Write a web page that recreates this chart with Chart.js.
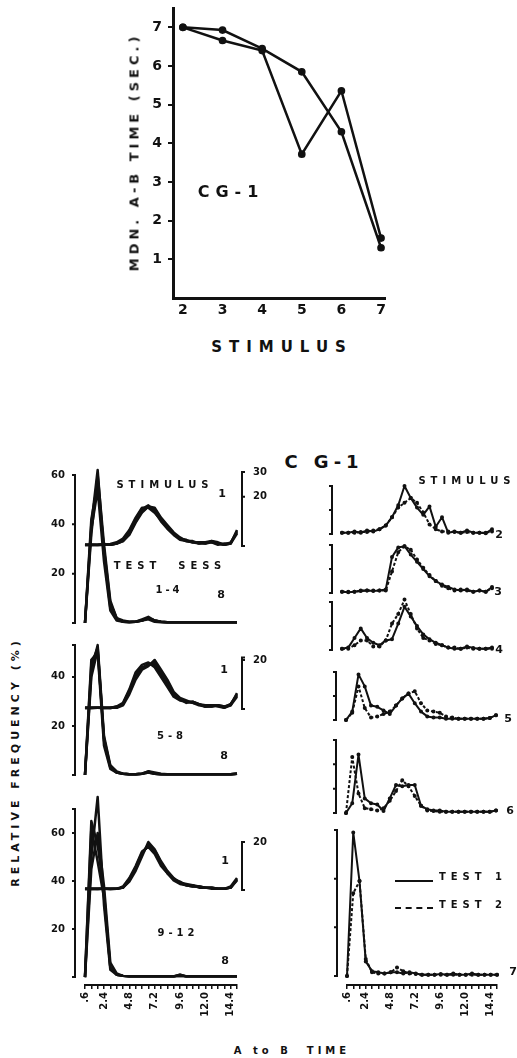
<!DOCTYPE html>
<html>
<head>
<meta charset="utf-8">
<title>CG-1</title>
<script src="https://cdn.jsdelivr.net/npm/chart.js@4.4.1/dist/chart.umd.min.js"></script>
<style>
  html, body { margin: 0; padding: 0; background: #fff; }
  body { width: 517px; height: 1058px; position: relative; overflow: hidden;
         font-family: 'DejaVu Sans', sans-serif; font-weight: bold; color: #111; }
  canvas { position: absolute; }
  .t { position: absolute; transform: translate(-50%, -50%); white-space: pre; line-height: 1; }
  .v { transform: translate(-50%, -50%) rotate(-90deg); }
  .key { position: absolute; width: 38px; height: 0; border-top: 2px solid #111; }
  .key.dash { border-top-style: dashed; }
</style>
</head>
<body>
<canvas id="topChart"></canvas>
<canvas id="sess1to4"></canvas>
<canvas id="sess5to8"></canvas>
<canvas id="sess9to12"></canvas>
<canvas id="stim2"></canvas>
<canvas id="stim3"></canvas>
<canvas id="stim4"></canvas>
<canvas id="stim5"></canvas>
<canvas id="stim6"></canvas>
<canvas id="stim7"></canvas>

<!-- textos do gráfico superior -->
<div class="t v" style="left:134px;top:152px;font-size:13px;letter-spacing:4px">MDN. A-B TIME (SEC.)</div>
<div class="t" style="left:231px;top:192px;font-size:16px;letter-spacing:6px">CG-1</div>
<div class="t" style="left:282px;top:347px;font-size:15px;letter-spacing:7px">STIMULUS</div>

<!-- textos dos painéis inferiores -->
<div class="t" style="left:324px;top:462px;font-size:18px;letter-spacing:5px">C G-1</div>
<div class="t" style="left:467px;top:481px;font-size:10px;letter-spacing:5px">STIMULUS</div>
<div class="t v" style="left:15px;top:762px;font-size:11px;letter-spacing:4px">RELATIVE FREQUENCY (%)</div>

<div class="t" style="left:165px;top:485px;font-size:10px;letter-spacing:5px">STIMULUS</div>
<div class="t" style="left:222px;top:493px;font-size:11px">1</div>
<div class="t" style="left:170px;top:566px;font-size:10px;letter-spacing:5px">TEST  SESS</div>
<div class="t" style="left:169px;top:590px;font-size:10px;letter-spacing:3px">1-4</div>
<div class="t" style="left:221px;top:594px;font-size:11px">8</div>

<div class="t" style="left:224px;top:669px;font-size:11px">1</div>
<div class="t" style="left:172px;top:736px;font-size:10px;letter-spacing:4px">5-8</div>
<div class="t" style="left:224px;top:755px;font-size:11px">8</div>

<div class="t" style="left:225px;top:860px;font-size:11px">1</div>
<div class="t" style="left:178px;top:933px;font-size:10px;letter-spacing:4px">9-12</div>
<div class="t" style="left:225px;top:960px;font-size:11px">8</div>

<div class="t" style="left:499px;top:534px;font-size:11px">2</div>
<div class="t" style="left:498px;top:591px;font-size:11px">3</div>
<div class="t" style="left:499px;top:649px;font-size:11px">4</div>
<div class="t" style="left:508px;top:718px;font-size:11px">5</div>
<div class="t" style="left:510px;top:810px;font-size:11px">6</div>
<div class="t" style="left:513px;top:971px;font-size:11px">7</div>

<div class="key" style="left:395px;top:880px"></div>
<div class="t" style="left:473px;top:877px;font-size:10px;letter-spacing:5px">TEST 1</div>
<div class="key dash" style="left:395px;top:907px"></div>
<div class="t" style="left:473px;top:905px;font-size:10px;letter-spacing:5px">TEST 2</div>

<div class="t" style="left:292px;top:1051px;font-size:10px;letter-spacing:4px">A to B  TIME</div>

<script>
// ---- dados do gráfico superior (mediana do tempo A-B por estímulo) ----
const stimuli = [2, 3, 4, 5, 6, 7];
const mdnTest1 = [7.0, 6.66, 6.40, 3.72, 5.36, 1.55];
const mdnTest2 = [7.0, 6.93, 6.45, 5.85, 4.30, 1.30];
const mdnTicks = [1, 2, 3, 4, 5, 6, 7];

// ---- intervalos de tempo A-B (s) ----
const timeBins = ['0.6', '1.2', '1.8', '2.4', '3.0', '3.6', '4.2', '4.8', '5.4', '6.0', '6.6', '7.2', '7.8',
  '8.4', '9.0', '9.6', '10.2', '10.8', '11.4', '12.0', '12.6', '13.2', '13.8', '14.4', '15.0'];
const timeTickBins = ['0.6', '2.4', '4.8', '7.2', '9.6', '12.0', '14.4'];
const timeTickText = ['.6', '2.4', '4.8', '7.2', '9.6', '12.0', '14.4'];

// ---- frequência relativa (%), sessões de teste, estímulos 1 e 8 ----
const sess1to4Stim1 = [
  [0.5, 0.5, 0.5, 0.5, 0.5, 1, 2, 5, 10, 14, 16, 15, 11, 8, 5, 3, 2, 1.5, 1.5, 1.5, 2, 1, 0.5, 1, 6],
  [0.5, 0.3, 0.5, 0.8, 0.5, 1, 2.5, 6, 11, 15, 16.5, 14, 10, 7, 4.5, 2.5, 2, 2, 1, 1, 1.5, 1, 0.5, 1.5, 5.5],
  [0.3, 0.5, 0.5, 0.5, 0.8, 1.5, 3, 6.5, 11.5, 15.5, 15.5, 13.5, 10.5, 7.5, 5, 3, 2.5, 1.5, 1, 1.5, 1.5, 0.5, 1, 1, 6.5],
  [0.5, 0.5, 0.3, 0.5, 0.5, 1, 2, 4.5, 9.5, 13.5, 16, 15.5, 11.5, 8.5, 5.5, 3.5, 2, 1.5, 1.5, 1, 2, 1.5, 0.5, 1, 5]
];
const sess1to4Stim8 = [
  [0, 40, 62, 28, 6, 1.5, 0.5, 0.3, 0.5, 1, 2, 1, 0.5, 0.3, 0.3, 0.3, 0.3, 0.3, 0.3, 0.3, 0.3, 0.3, 0.3, 0.3, 0.3],
  [0, 42, 57, 30, 8, 2, 1, 0.5, 0.5, 1.5, 2.5, 1, 0.5, 0.3, 0.3, 0.3, 0.3, 0.3, 0.3, 0.3, 0.3, 0.3, 0.3, 0.3, 0.3],
  [0, 38, 54, 25, 5, 1, 0.5, 0.3, 0.5, 1, 1.5, 0.5, 0.3, 0.3, 0.3, 0.3, 0.3, 0.3, 0.3, 0.3, 0.3, 0.3, 0.3, 0.3, 0.3],
  [0, 36, 60, 32, 9, 2, 0.5, 0.5, 0.5, 1, 2, 1, 0.5, 0.3, 0.3, 0.3, 0.3, 0.3, 0.3, 0.3, 0.3, 0.3, 0.3, 0.3, 0.3]
];
const sess5to8Stim1 = [
  [0.5, 0.5, 0.5, 0.5, 0.5, 0.5, 2, 7, 14, 17, 18, 19, 15, 11, 6, 4, 3, 3, 2, 1, 1.5, 1.5, 1, 2, 6],
  [0.5, 0.3, 0.5, 0.5, 0.5, 1, 2.5, 8, 15, 18, 19, 17, 13, 9, 5, 3.5, 3, 2.5, 1.5, 1, 1, 1.5, 1, 1.5, 5],
  [0.3, 0.5, 0.5, 0.3, 0.5, 0.5, 1.5, 6, 12, 16, 17.5, 20, 16, 12, 7, 4.5, 3.5, 2.5, 2, 1.5, 1.5, 1, 0.5, 1.5, 6.5],
  [0.5, 0.5, 0.5, 0.5, 0.3, 1, 2, 7.5, 13.5, 16.5, 18.5, 18, 14, 10, 6, 4, 2.5, 3, 2, 1, 1, 1.5, 0.5, 2, 5.5]
];
const sess5to8Stim8 = [
  [0, 45, 52, 14, 3, 1, 0.5, 0.3, 0.3, 0.5, 1.5, 1, 0.5, 0.3, 0.3, 0.3, 0.3, 0.3, 0.3, 0.3, 0.3, 0.3, 0.3, 0.3, 0.5],
  [0, 42, 53, 16, 4, 1.5, 0.5, 0.3, 0.3, 0.5, 1, 0.5, 0.3, 0.3, 0.3, 0.3, 0.3, 0.3, 0.3, 0.3, 0.3, 0.3, 0.3, 0.3, 0.5],
  [0, 47, 50, 12, 2.5, 1, 0.5, 0.3, 0.3, 0.5, 1, 0.5, 0.3, 0.3, 0.3, 0.3, 0.3, 0.3, 0.3, 0.3, 0.3, 0.3, 0.3, 0.3, 0.5],
  [0, 40, 51, 15, 3.5, 1, 0.5, 0.3, 0.3, 0.5, 1.5, 0.5, 0.3, 0.3, 0.3, 0.3, 0.3, 0.3, 0.3, 0.3, 0.3, 0.3, 0.3, 0.3, 0.5]
];
const sess9to12Stim1 = [
  [0.5, 0.5, 0.5, 0.5, 0.5, 0.5, 1, 4, 9, 15, 19, 16, 11, 7.5, 4.5, 3, 2, 2, 1.5, 1, 1, 0.5, 0.5, 1, 4.5],
  [0.5, 0.3, 0.5, 0.5, 0.5, 0.5, 1.5, 5, 10, 16, 18, 15, 10, 7, 4, 2.5, 2, 1.5, 1.5, 1, 1, 0.5, 0.5, 1, 4],
  [0.3, 0.5, 0.5, 0.5, 0.3, 0.5, 1, 3.5, 8, 14, 20, 17, 12, 8, 5, 3, 2.5, 2, 1, 1, 0.5, 0.5, 0.5, 1.5, 5],
  [0.5, 0.5, 0.3, 0.5, 0.5, 0.5, 1, 4.5, 9.5, 15.5, 18.5, 16.5, 11.5, 7, 4.5, 3.5, 2, 1.5, 1.5, 1, 1, 0.5, 0.5, 1, 4.5]
];
const sess9to12Stim8 = [
  [0, 65, 55, 35, 4, 1, 0.5, 0.3, 0.3, 0.3, 0.3, 0.3, 0.3, 0.3, 0.3, 1, 0.3, 0.3, 0.3, 0.3, 0.3, 0.3, 0.3, 0.3, 0.3],
  [0, 50, 75, 30, 3, 1, 0.5, 0.3, 0.3, 0.3, 0.3, 0.3, 0.3, 0.3, 0.3, 0.5, 0.3, 0.3, 0.3, 0.3, 0.3, 0.3, 0.3, 0.3, 0.3],
  [0, 45, 60, 38, 6, 1.5, 0.5, 0.3, 0.3, 0.3, 0.3, 0.3, 0.3, 0.3, 0.3, 1, 0.3, 0.3, 0.3, 0.3, 0.3, 0.3, 0.3, 0.3, 0.3],
  [0, 62, 48, 33, 4, 1, 0.5, 0.3, 0.3, 0.3, 0.3, 0.3, 0.3, 0.3, 0.3, 0.5, 0.3, 0.3, 0.3, 0.3, 0.3, 0.3, 0.3, 0.3, 0.3]
];

// ---- frequência relativa (%), teste 1 e teste 2, estímulos 2 a 7 ----
const stim2Test1 = [0.5, 0.5, 1, 0.5, 1.5, 1, 2, 3.5, 7, 12, 20, 15, 11, 8, 11.5, 3, 7, 0.5, 1, 0.5, 1.5, 0.5, 0.5, 0.3, 2];
const stim2Test2 = [0.5, 0.5, 0.5, 0.8, 0.8, 1.5, 2, 3.5, 7, 11, 13, 15, 13, 9, 4, 2, 1, 1, 0.8, 0.5, 0.8, 0.5, 0.5, 0.5, 1];
const stim3Test1 = [0.5, 0.3, 0.5, 1, 1, 0.8, 1, 1.5, 15, 19, 19.5, 16, 13, 10, 7, 5, 3.5, 2.5, 1.5, 1, 1.5, 0.5, 1, 0.5, 2.5];
const stim3Test2 = [0.5, 0.5, 0.5, 0.8, 1, 1, 1, 1, 9, 17, 19.5, 18, 14, 10.5, 7.5, 5, 3, 2, 1, 1.5, 1, 0.5, 1, 0.5, 2];
const stim4Test1 = [0.5, 1, 5, 9, 5, 3, 2, 4, 4.5, 11, 18, 14, 10, 6.5, 4.5, 3, 2, 1, 0.5, 0.5, 1.5, 0.8, 0.5, 0.5, 1];
const stim4Test2 = [0.5, 0.5, 2, 4, 4, 1.5, 1.5, 4, 11, 15, 21, 15, 9, 5, 4, 2.5, 2, 1, 1, 0.5, 1, 0.5, 0.5, 0.5, 0.5];
const stim5Test1 = [0, 3.5, 19, 14, 6, 5.5, 4, 2.5, 6, 9, 11, 7, 3.5, 1.5, 1, 1, 0.5, 0.5, 0.5, 0.5, 0.5, 0.5, 0.5, 0.8, 2];
const stim5Test2 = [0, 3, 14, 5, 1, 1.5, 2.5, 3.5, 6, 9, 11, 12, 7, 4, 3.5, 3, 1.5, 1, 0.5, 0.5, 0.5, 0.5, 0.5, 0.8, 2];
const stim6Test1 = [0, 4, 24, 6, 4, 3.5, 0.8, 6, 11.5, 11, 11.5, 11.5, 3, 1.5, 1, 1, 0.5, 0.5, 0.5, 0.5, 0.5, 0.5, 0.5, 0.5, 1];
const stim6Test2 = [0, 23, 8, 2, 1.5, 1, 2, 5, 9, 13.5, 11, 7, 3, 1, 0.8, 0.5, 0.5, 0.5, 0.5, 0.5, 0.5, 0.5, 0.5, 0.5, 1];
const stim7Test1 = [0, 59, 39, 6, 2, 1.5, 1, 1.5, 1.5, 1, 1.5, 1, 0.5, 0.5, 0.5, 0.8, 0.5, 1, 0.5, 0.5, 1, 0.5, 0.5, 0.5, 0.5];
const stim7Test2 = [0, 34, 39, 7, 1.5, 1, 1, 1.5, 3.5, 2, 1, 0.8, 0.5, 0.5, 0.5, 0.5, 0.5, 0.5, 0.5, 0.5, 0.5, 0.5, 0.5, 0.5, 0.5];

const FONT = 'DejaVu Sans';
const INK = '#111';

// Posiciona o canvas para que a área do gráfico caia em "area" (coordenadas da página)
function place(canvas, area, m) {
  canvas.width = area.r - area.l + m.l + m.r;
  canvas.height = area.b - area.t + m.t + m.b;
  canvas.style.left = (area.l - m.l) + 'px';
  canvas.style.top = (area.t - m.t) + 'px';
}

// Colchetes de escala: linha vertical com ganchos nas pontas e marcas
function bracketsPlugin(list) {
  return {
    id: 'brackets',
    afterDraw(chart) {
      const ctx = chart.ctx;
      const area = chart.chartArea;
      list.forEach(b => {
        const scale = chart.scales[b.axis];
        const out = b.side === 'right' ? 1 : -1;
        const x = b.side === 'right' ? area.right + b.gap : area.left - b.gap;
        const y0 = scale.getPixelForValue(b.from);
        const y1 = scale.getPixelForValue(b.to);
        ctx.save();
        ctx.strokeStyle = INK;
        ctx.lineWidth = 2;
        ctx.beginPath();
        ctx.moveTo(x + out * 3, y0);
        ctx.lineTo(x, y0);
        ctx.lineTo(x, y1);
        ctx.lineTo(x + out * 3, y1);
        (b.marks || []).forEach(v => {
          const y = scale.getPixelForValue(v);
          ctx.moveTo(x, y);
          ctx.lineTo(x + out * 3, y);
        });
        ctx.stroke();
        ctx.restore();
      });
    }
  };
}

function fixedTicks(values) {
  return scale => { scale.ticks = values.map(v => ({ value: v })); };
}

function timeAxis(show) {
  if (!show) {
    return { type: 'category', display: false };
  }
  return {
    type: 'category',
    offset: false,
    afterFit: s => { s.height = 45; },
    border: { display: true, color: INK, width: 2 },
    grid: { display: true, drawOnChartArea: false, drawTicks: true, tickLength: 4, color: INK, lineWidth: 1.5 },
    ticks: {
      autoSkip: false, minRotation: 90, maxRotation: 90, padding: 3, color: INK,
      font: { family: FONT, weight: 'bold', size: 10 },
      callback: (value, index) => {
        const i = timeTickBins.indexOf(timeBins[index]);
        return i >= 0 ? timeTickText[i] : '';
      }
    }
  };
}

const baseOptions = {
  responsive: false,
  animation: false,
  events: [],
  plugins: { legend: { display: false }, tooltip: { enabled: false } }
};

function lineSet(values, axis, dashed) {
  const marked = dashed !== undefined;
  return {
    data: values,
    yAxisID: axis,
    borderColor: INK,
    backgroundColor: INK,
    borderWidth: marked ? 2 : 2.5,
    borderDash: dashed ? [3, 2] : [],
    borderJoinStyle: 'round',
    pointRadius: marked ? 1 : 0,
    tension: 0,
    clip: false
  };
}

// ---- gráfico superior ----
(function () {
  const canvas = document.getElementById('topChart');
  const area = { l: 173, t: 8, r: 385, b: 298 };
  const m = { l: 53, t: 20, r: 15, b: 30 };
  place(canvas, area, m);
  const tickFont = { family: FONT, weight: 'bold', size: 14 };
  new Chart(canvas, {
    type: 'line',
    data: {
      datasets: [mdnTest1, mdnTest2].map(series => ({
        data: stimuli.map((s, i) => ({ x: s, y: series[i] })),
        borderColor: INK,
        backgroundColor: INK,
        borderWidth: 2.5,
        pointRadius: 2.6,
        tension: 0,
        clip: false
      }))
    },
    options: {
      ...baseOptions,
      layout: { padding: { left: 0, top: m.t, right: m.r, bottom: 0 } },
      scales: {
        x: {
          type: 'linear', min: 1.75, max: 7.1,
          afterBuildTicks: fixedTicks(stimuli),
          afterFit: s => { s.height = 30; },
          border: { color: INK, width: 3 },
          grid: { display: false, drawTicks: false },
          ticks: { padding: 4, color: INK, font: tickFont }
        },
        y: {
          min: 0, max: 7.5,
          afterBuildTicks: fixedTicks(mdnTicks),
          afterFit: s => { s.width = 53; },
          border: { color: INK, width: 3 },
          grid: { drawOnChartArea: false, drawTicks: true, tickLength: 5, color: INK, lineWidth: 2 },
          ticks: { padding: 6, color: INK, font: tickFont }
        }
      }
    }
  });
})();

// ---- painéis das sessões (estímulo 8 na escala esquerda, estímulo 1 na direita) ----
function sessionPanel(id, p) {
  const canvas = document.getElementById(id);
  const xH = p.showX ? 45 : 0;
  const m = { l: 55, t: 30, r: 36, b: p.showX ? 45 : 30 };
  place(canvas, p.area, m);
  const tickFont = { family: FONT, weight: 'bold', size: 10 };
  const datasets = p.stim8.map(v => lineSet(v, 'y')).concat(p.stim1.map(v => lineSet(v, 'y2')));
  new Chart(canvas, {
    type: 'line',
    data: { labels: timeBins, datasets },
    options: {
      ...baseOptions,
      layout: { padding: { left: 0, top: m.t, right: 0, bottom: m.b - xH } },
      scales: {
        x: timeAxis(p.showX),
        y: {
          min: p.yMin, max: p.yMax,
          afterBuildTicks: fixedTicks(p.leftTicks),
          afterFit: s => { s.width = 55; },
          border: { display: false },
          grid: { display: false, drawTicks: false },
          ticks: { padding: 20, color: INK, font: tickFont }
        },
        y2: {
          position: 'right',
          min: p.yMin - p.offset, max: p.yMax - p.offset,
          afterBuildTicks: fixedTicks(p.rightTicks),
          afterFit: s => { s.width = 36; },
          border: { display: false },
          grid: { display: false, drawTicks: false },
          ticks: { padding: 16, color: INK, font: tickFont }
        }
      }
    },
    plugins: [bracketsPlugin([
      { axis: 'y', side: 'left', gap: 10, from: 0, to: p.leftTop, marks: p.leftTicks.filter(v => v < p.leftTop) },
      { axis: 'y2', side: 'right', gap: 5, from: 0, to: p.rightTop, marks: p.rightTicks.filter(v => v < p.rightTop) }
    ])]
  });
}

sessionPanel('sess1to4', {
  area: { l: 85, t: 470, r: 237, b: 623 }, yMin: 0, yMax: 62, offset: 31.2,
  leftTicks: [20, 40, 60], leftTop: 60, rightTicks: [20, 30], rightTop: 30,
  stim1: sess1to4Stim1, stim8: sess1to4Stim8, showX: false
});
sessionPanel('sess5to8', {
  area: { l: 85, t: 645, r: 237, b: 775 }, yMin: 0, yMax: 53, offset: 26.9,
  leftTicks: [20, 40], leftTop: 53, rightTicks: [20], rightTop: 21,
  stim1: sess5to8Stim1, stim8: sess5to8Stim8, showX: false
});
sessionPanel('sess9to12', {
  area: { l: 85, t: 809, r: 237, b: 985 }, yMin: -3.3, yMax: 70, offset: 36.25,
  leftTicks: [20, 40, 60], leftTop: 70, rightTicks: [20], rightTop: 20,
  stim1: sess9to12Stim1, stim8: sess9to12Stim8, showX: true
});

// ---- painéis por estímulo (teste 1 contínuo, teste 2 tracejado) ----
function stimulusPanel(id, p) {
  const canvas = document.getElementById(id);
  const xH = p.showX ? 45 : 0;
  const m = { l: 22, t: 10, r: 16, b: p.showX ? 45 : 10 };
  place(canvas, p.area, m);
  new Chart(canvas, {
    type: 'line',
    data: { labels: timeBins, datasets: [lineSet(p.test1, 'y', false), lineSet(p.test2, 'y', true)] },
    options: {
      ...baseOptions,
      layout: { padding: { left: m.l, top: m.t, right: m.r, bottom: m.b - xH } },
      scales: {
        x: timeAxis(p.showX),
        y: { display: false, min: p.yMin, max: p.yMax }
      }
    },
    plugins: [bracketsPlugin([{ axis: 'y', side: 'left', gap: 10, from: 0, to: p.top, marks: p.marks }])]
  });
}

stimulusPanel('stim2', { area: { l: 342, t: 486, r: 492, b: 534 }, yMin: 0, yMax: 20, top: 20, marks: [10], test1: stim2Test1, test2: stim2Test2 });
stimulusPanel('stim3', { area: { l: 342, t: 545, r: 492, b: 593 }, yMin: 0, yMax: 20, top: 20, marks: [10], test1: stim3Test1, test2: stim3Test2 });
stimulusPanel('stim4', { area: { l: 342, t: 602, r: 492, b: 650 }, yMin: 0, yMax: 20, top: 20, marks: [10], test1: stim4Test1, test2: stim4Test2 });
stimulusPanel('stim5', { area: { l: 346, t: 672, r: 496, b: 720 }, yMin: 0, yMax: 20, top: 20, marks: [10], test1: stim5Test1, test2: stim5Test2 });
stimulusPanel('stim6', { area: { l: 346, t: 740, r: 496, b: 813 }, yMin: 0, yMax: 30, top: 30, marks: [10, 20], test1: stim6Test1, test2: stim6Test2 });
stimulusPanel('stim7', { area: { l: 347, t: 830, r: 497, b: 985 }, yMin: -3.7, yMax: 60, top: 60, marks: [20, 40], test1: stim7Test1, test2: stim7Test2, showX: true });
</script>
</body>
</html>
